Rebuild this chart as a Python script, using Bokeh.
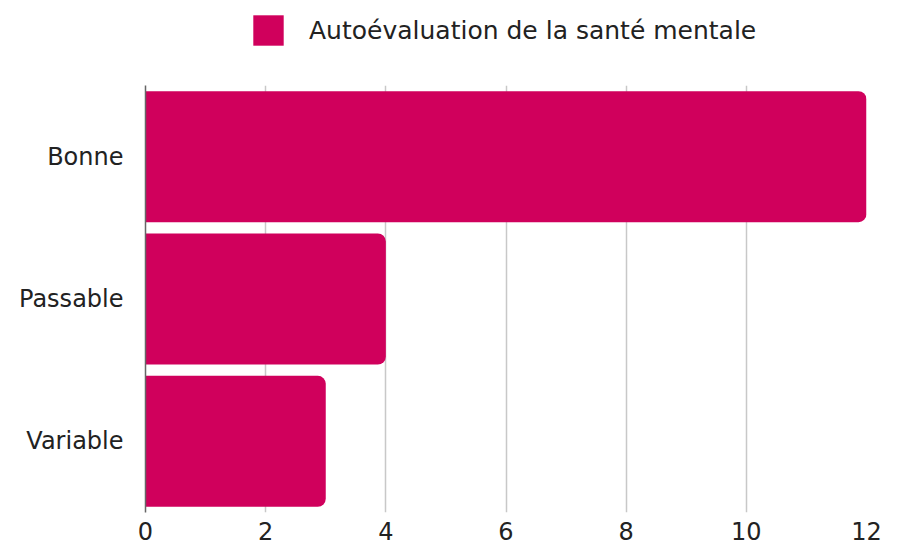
from bokeh.plotting import figure
from bokeh.layouts import column
from bokeh.models import ColumnDataSource, FactorRange, Range1d, Legend, LegendItem, FixedTicker
from bokeh.embed import file_html
from bokeh.resources import INLINE

categories = ["Bonne", "Passable", "Variable"]
values = [12, 4, 3]
series_name = "Autoévaluation de la santé mentale"
x_ticks = [0, 2, 4, 6, 8, 10, 12]

COLOR = "#D0005C"
FONT = "DejaVu Sans"
TEXT = "#222222"

# ---- legend strip ----
lg = figure(width=882, height=70, output_backend="svg", toolbar_location=None,
            x_range=Range1d(0, 1), y_range=Range1d(0, 1),
            x_axis_type=None, y_axis_type=None)
lg.min_border = 0
lg.outline_line_color = None
lg.xgrid.visible = False
lg.ygrid.visible = False
# swatch renderer: a zero-width bar outside the strip's range, only its legend glyph shows
lsrc = ColumnDataSource(dict(cat=[-10], val=[0]))
lr = lg.hbar(y="cat", right="val", left=0, height=0.9, source=lsrc,
             fill_color=COLOR, line_color=None, border_radius=3)
legend = Legend(items=[LegendItem(label=series_name, renderers=[lr])],
                orientation="horizontal", location=(104, 21),
                glyph_width=38, glyph_height=38, label_standoff=22,
                label_text_font=FONT, label_text_font_size="25px",
                label_text_color=TEXT, border_line_color=None,
                background_fill_alpha=0, padding=0, margin=0, spacing=0)
lg.add_layout(legend, "center")

# ---- main chart ----
src = ColumnDataSource(dict(cat=categories, val=values))

p = figure(width=882, height=474, output_backend="svg", toolbar_location=None,
           y_range=FactorRange(*categories[::-1], range_padding=0),
           x_range=Range1d(0, 12))
p.min_border_left = 145
p.min_border_right = 16
p.min_border_bottom = 32
p.min_border_top = 15
p.outline_line_color = None

r = p.hbar(y="cat", right="val", left=0, height=0.92, source=src,
           fill_color=COLOR, line_color=None, border_radius=(0, 8, 8, 0))

p.xgrid.grid_line_color = "#c8c8c8"
p.xgrid.grid_line_width = 1.5
p.ygrid.grid_line_color = None

p.xaxis.ticker = FixedTicker(ticks=x_ticks)
p.xaxis.axis_line_color = None
p.xaxis.major_tick_line_color = None
p.xaxis.minor_tick_line_color = None
p.xaxis.major_label_text_font = FONT
p.xaxis.major_label_text_font_size = "24px"
p.xaxis.major_label_text_color = TEXT
p.xaxis.major_label_standoff = 3

p.yaxis.axis_line_color = "#666666"
p.yaxis.axis_line_width = 1.5
p.yaxis.major_tick_line_color = None
p.yaxis.minor_tick_line_color = None
p.yaxis.major_label_text_font = FONT
p.yaxis.major_label_text_font_size = "24px"
p.yaxis.major_label_text_color = TEXT
p.yaxis.major_label_standoff = 16

layout = column(lg, p, spacing=0)
open("out.html", "w").write(file_html(layout, INLINE))
